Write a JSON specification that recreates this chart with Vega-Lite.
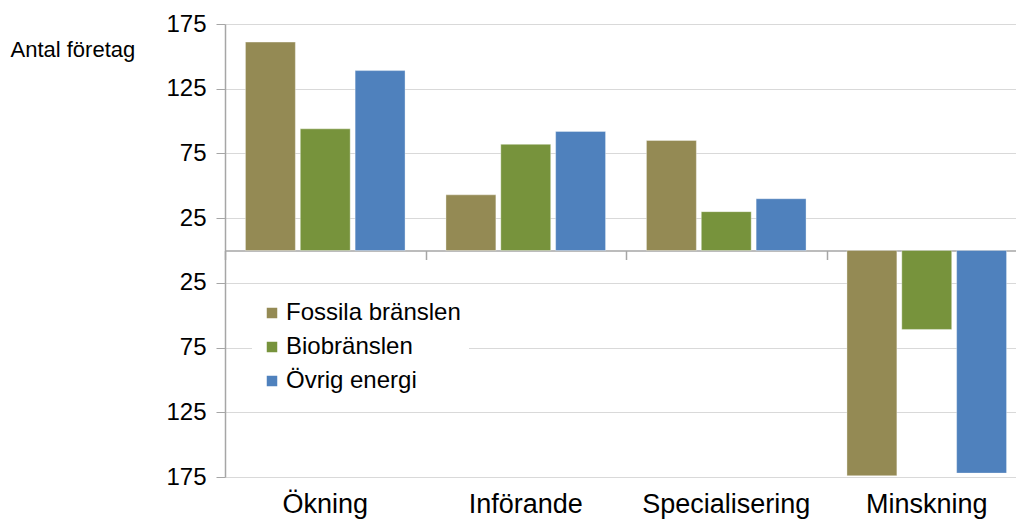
{
  "$schema": "https://vega.github.io/schema/vega-lite/v6.json",
  "width": 791,
  "height": 453,
  "autosize": {"type": "none"},
  "padding": {"left": 225, "top": 24, "right": 0, "bottom": 43},
  "background": "white",
  "config": {"view": {"stroke": null}, "font": "Liberation Sans"},
  "data": {
    "values": [
      {"kategori": "Ökning", "typ": "Fossila bränslen", "antal": 161},
      {"kategori": "Ökning", "typ": "Biobränslen", "antal": 94},
      {"kategori": "Ökning", "typ": "Övrig energi", "antal": 139},
      {"kategori": "Införande", "typ": "Fossila bränslen", "antal": 43},
      {"kategori": "Införande", "typ": "Biobränslen", "antal": 82},
      {"kategori": "Införande", "typ": "Övrig energi", "antal": 92},
      {"kategori": "Specialisering", "typ": "Fossila bränslen", "antal": 85},
      {"kategori": "Specialisering", "typ": "Biobränslen", "antal": 30},
      {"kategori": "Specialisering", "typ": "Övrig energi", "antal": 40},
      {"kategori": "Minskning", "typ": "Fossila bränslen", "antal": -174},
      {"kategori": "Minskning", "typ": "Biobränslen", "antal": -61},
      {"kategori": "Minskning", "typ": "Övrig energi", "antal": -172}
    ]
  },
  "encoding": {
    "xOffset": {
      "field": "typ",
      "type": "nominal",
      "sort": ["Fossila bränslen", "Biobränslen", "Övrig energi"],
      "scale": {"paddingInner": 0.09, "paddingOuter": 0.373}
    },
    "y": {
      "field": "antal",
      "type": "quantitative",
      "scale": {"domain": [-175, 175], "nice": false, "zero": false},
      "axis": {
        "values": [-175, -125, -75, -25, 25, 75, 125, 175],
        "labelExpr": "abs(datum.value)",
        "title": "Antal företag",
        "titleAngle": 0,
        "titleAlign": "left",
        "titleBaseline": "alphabetic",
        "titleX": -215,
        "titleY": 32,
        "titleFontSize": 22,
        "titleFontWeight": "normal",
        "titleColor": "#000000",
        "grid": true,
        "gridColor": "#d9d9d9",
        "gridWidth": 1,
        "domainColor": "#a6a6a6",
        "domainWidth": 1.5,
        "tickColor": "#a6a6a6",
        "tickWidth": 1,
        "tickSize": 9,
        "labelFontSize": 24,
        "labelPadding": 10,
        "labelColor": "#000000",
        "labelBaseline": "middle"
      }
    }
  },
  "layer": [
    {
      "mark": {"type": "bar", "stroke": "#ffffff", "strokeOpacity": 0.35, "strokeWidth": 1},
      "encoding": {
        "x": {
          "field": "kategori",
          "type": "nominal",
          "sort": ["Ökning", "Införande", "Specialisering", "Minskning"],
          "scale": {"range": [0, 802], "paddingInner": 0, "paddingOuter": 0},
          "axis": {
            "orient": "bottom",
            "offset": -226.5,
            "labels": false,
            "ticks": true,
            "tickBand": "extent",
            "tickSize": 9,
            "tickColor": "#a6a6a6",
            "tickWidth": 1.5,
            "domainColor": "#a6a6a6",
            "domainWidth": 1.5,
            "grid": false,
            "title": null
          }
        },
        "color": {
          "field": "typ",
          "type": "nominal",
          "sort": ["Fossila bränslen", "Biobränslen", "Övrig energi"],
          "scale": {
            "domain": ["Fossila bränslen", "Biobränslen", "Övrig energi"],
            "range": ["#948A54", "#77933C", "#4F81BD"]
          },
          "legend": {
            "orient": "none",
            "legendX": 27,
            "legendY": 269,
            "title": null,
            "fillColor": "white",
            "padding": 8,
            "symbolType": "square",
            "symbolSize": 110,
            "symbolStrokeWidth": 0,
            "labelFontSize": 24,
            "labelOffset": 2,
            "labelLimit": 400,
            "labelColor": "#000000",
            "rowPadding": 10
          }
        }
      }
    },
    {
      "mark": {"type": "bar", "opacity": 0},
      "encoding": {
        "x": {
          "field": "kategori",
          "type": "nominal",
          "sort": ["Ökning", "Införande", "Specialisering", "Minskning"],
          "axis": {
            "orient": "bottom",
            "domain": false,
            "ticks": false,
            "grid": false,
            "labelAngle": 0,
            "labelFontSize": 27,
            "labelBaseline": "alphabetic",
            "labelPadding": 35,
            "labelColor": "#000000",
            "labelLimit": 400,
            "title": null
          }
        }
      }
    }
  ],
  "resolve": {"axis": {"x": "independent"}}
}
